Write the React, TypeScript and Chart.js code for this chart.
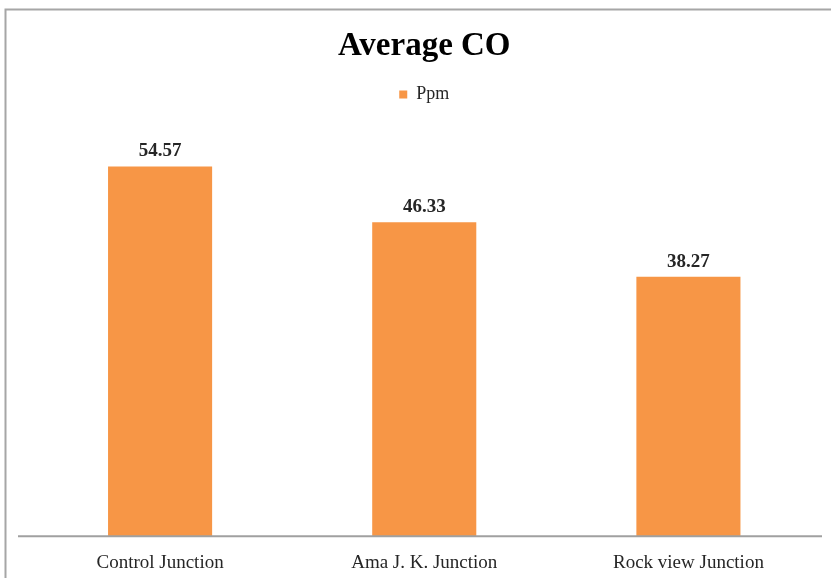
import React, { useEffect, useRef } from "react";
import { Chart, registerables } from "chart.js";

Chart.register(...registerables);

const categories = ["Control Junction", "Ama J. K. Junction", "Rock view Junction"];
const ppmValues = [54.57, 46.33, 38.27];
const seriesName = "Ppm";
const chartTitle = "Average CO";

const FONT = "'Liberation Serif', 'DejaVu Serif', serif";
const ORANGE = "#F79646";

const frame = {
  id: "frame",
  beforeDraw(chart: any) {
    const ctx = chart.ctx;
    ctx.save();
    ctx.fillStyle = "#ffffff";
    ctx.fillRect(0, 0, chart.width, chart.height);
    ctx.strokeStyle = "#a6a6a6";
    ctx.lineWidth = 2;
    ctx.beginPath();
    ctx.moveTo(5.5, chart.height);
    ctx.lineTo(5.5, 9.5);
    ctx.lineTo(chart.width, 9.5);
    ctx.stroke();
    ctx.restore();
  },
};

const axisLine = {
  id: "axisLine",
  afterDatasetsDraw(chart: any) {
    const ctx = chart.ctx;
    const y = chart.scales.x.top;
    ctx.save();
    ctx.strokeStyle = "#a0a0a0";
    ctx.lineWidth = 2;
    ctx.beginPath();
    ctx.moveTo(18, y);
    ctx.lineTo(822, y);
    ctx.stroke();
    ctx.restore();
  },
};

const legendGap = {
  id: "legendGap",
  beforeInit(chart: any) {
    const legend = chart.legend;
    if (!legend) return;
    const orig = legend.fit;
    legend.fit = function () {
      orig.call(this);
      this.height += 16;
    };
  },
};

const valueLabels = {
  id: "valueLabels",
  afterDatasetsDraw(chart: any) {
    const ctx = chart.ctx;
    const meta = chart.getDatasetMeta(0);
    const data = chart.data.datasets[0].data as number[];
    ctx.save();
    ctx.font = `bold 19px ${FONT}`;
    ctx.fillStyle = "#262626";
    ctx.textAlign = "center";
    ctx.textBaseline = "middle";
    meta.data.forEach((bar: any, i: number) => {
      ctx.fillText(data[i].toFixed(2), bar.x, bar.y - 15);
    });
    ctx.restore();
  },
};

export default function App() {
  const ref = useRef<HTMLCanvasElement>(null);
  useEffect(() => {
    if (!ref.current) return;
    const chart = new Chart(ref.current, {
      type: "bar",
      data: {
        labels: categories,
        datasets: [
          {
            label: seriesName,
            data: ppmValues,
            backgroundColor: ORANGE,
            borderWidth: 0,
            categoryPercentage: 1,
            barPercentage: 0.394,
          },
        ],
      },
      options: {
        responsive: false,
        animation: false,
        layout: { padding: { left: 28, right: 10.5, top: 0, bottom: -11 } },
        plugins: {
          title: {
            display: true,
            text: chartTitle,
            color: "#000000",
            font: { family: FONT, size: 33, weight: "bold" },
            padding: { top: 27, bottom: 13 },
          },
          legend: {
            display: true,
            position: "top",
            labels: {
              color: "#262626",
              font: { family: FONT, size: 18 },
              boxWidth: 8,
              boxHeight: 8,
              padding: 6,
            },
          },
          tooltip: { enabled: false },
        },
        scales: {
          x: {
            grid: { display: false, drawTicks: false, tickLength: 0 },
            border: { display: false },
            ticks: {
              color: "#262626",
              font: { family: FONT, size: 19 },
              padding: 15,
            },
          },
          y: {
            display: false,
            min: 0,
            max: 60,
          },
        },
      },
      plugins: [frame, legendGap, axisLine, valueLabels],
    });
    return () => chart.destroy();
  }, []);
  return (
    <div style={{ position: "absolute", left: 0, top: 0, width: 831, height: 578, overflow: "hidden" }}>
      <canvas ref={ref} width={831} height={578} />
    </div>
  );
}
